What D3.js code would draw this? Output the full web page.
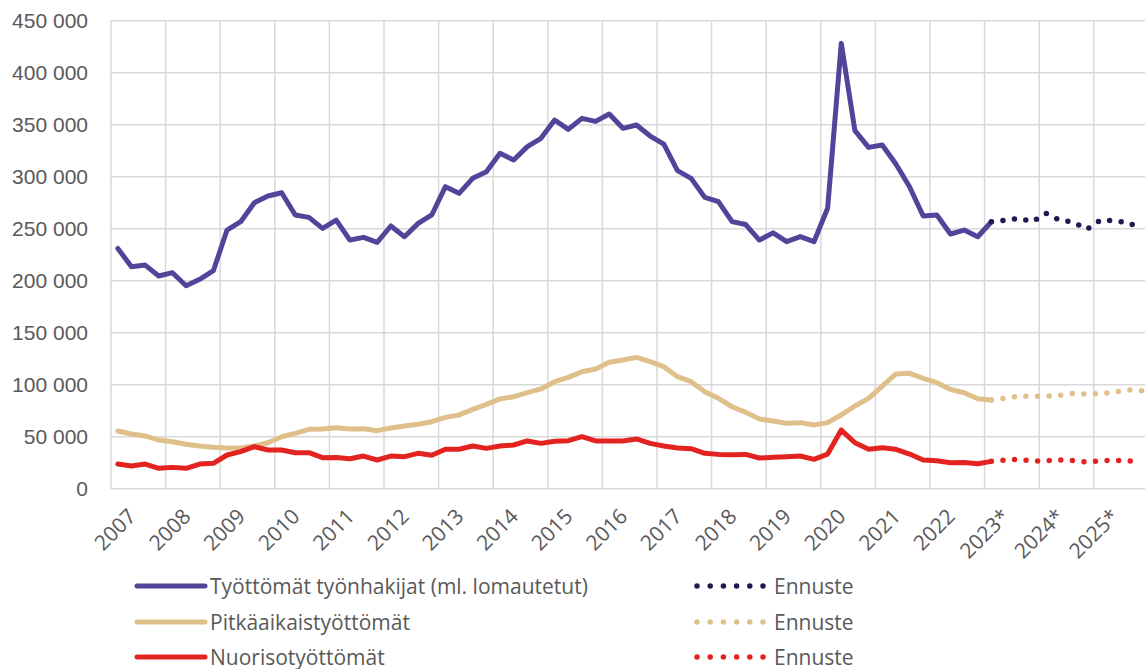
<!DOCTYPE html>
<html lang="fi">
<head>
  <meta charset="UTF-8">
  <title>Työttömät työnhakijat</title>
  <script src="https://d3js.org/d3.v7.min.js"></script>
  <style>
    body { margin: 0; background: #fff; }
    svg { display: block; font-family: "Open Sans", sans-serif; }
    .grid line { stroke: #d9d9d9; stroke-width: 1.5px; }
    .axis text { fill: #595959; font-size: 21px; }
    .legend text { fill: #595959; font-size: 21px; }
    .line { fill: none; stroke-width: 5px; stroke-linejoin: round; stroke-linecap: round; }
    .ennuste { fill: none; stroke-width: 5.5px; stroke-linecap: round; stroke-dasharray: 0 11.6; }
  </style>
</head>
<body>
  <div id="chart"></div>

  <script>
    // vuodet ja akselin otsikot
    const years = [2007, 2008, 2009, 2010, 2011, 2012, 2013, 2014, 2015, 2016,
                   2017, 2018, 2019, 2020, 2021, 2022, 2023, 2024, 2025];
    const yearLabels = ["2007", "2008", "2009", "2010", "2011", "2012", "2013", "2014", "2015", "2016",
                        "2017", "2018", "2019", "2020", "2021", "2022", "2023*", "2024*", "2025*"];
    const yTicks = [0, 50000, 100000, 150000, 200000, 250000, 300000, 350000, 400000, 450000];

    // neljännesvuosittaiset arvot 2007Q1 - 2023Q1
    const tyottomat = [
      231000, 213500, 215000, 204500, 207700, 195200, 201300, 209600, 248700, 256700,
      275000, 281400, 284600, 263200, 260900, 250300, 258300, 239100, 241700, 236900,
      252600, 242300, 255100, 263200, 290400, 284000, 298400, 304800, 322500, 316000,
      328900, 336900, 354500, 345500, 356100, 353200, 360300, 346500, 349700, 339100,
      331400, 305800, 298400, 280100, 276000, 256800, 254000, 239100, 246000, 237500,
      242300, 237500, 269600, 428200, 344300, 328200, 330500, 312200, 290400, 262200,
      263200, 244900, 248700, 242300, 256700
    ];
    const pitkaaikais = [
      55500, 52600, 50700, 46800, 45200, 42700, 41100, 39800, 39100, 39100,
      41100, 44200, 50000, 53200, 57100, 57400, 58700, 57400, 57700, 55800,
      58400, 60300, 61900, 64400, 68600, 70900, 76300, 81100, 86300, 88500,
      92300, 95900, 102900, 107100, 112500, 115100, 121500, 123700, 126300, 122100,
      117300, 107700, 102900, 93300, 86900, 78800, 73400, 67000, 65100, 62900,
      63500, 61200, 63500, 70900, 79500, 86900, 98700, 110300, 110900, 106100,
      101900, 95500, 92300, 86500, 85300
    ];
    const nuoriso = [
      23700, 21800, 23700, 19600, 20500, 19600, 23700, 24400, 32400, 35600,
      40400, 37200, 37200, 34600, 34600, 29800, 30100, 28800, 31400, 27600,
      31400, 30800, 34000, 32100, 37900, 37900, 41100, 38800, 41100, 42000,
      45900, 43600, 45600, 46200, 50000, 45900, 45900, 45900, 47800, 43600,
      41100, 39100, 38500, 34000, 33000, 32700, 33000, 29500, 30200, 30800,
      31400, 28200, 33300, 56400, 44200, 37900, 39400, 37900, 33300, 27600,
      26900, 25000, 25300, 24000, 26300
    ];

    // ennusteet 2023Q1 - 2025Q4
    const tyottomatEnnuste = [256700, 258200, 260000, 256700, 264800, 258200, 256400, 249400, 258200, 257600, 256000, 249400];
    const pitkaaikaisEnnuste = [85300, 86900, 89100, 88800, 88800, 89800, 91700, 91000, 91300, 92700, 94900, 94200];
    const nuorisoEnnuste = [26300, 27600, 28200, 26600, 26900, 27600, 27200, 25700, 26900, 27200, 26900, 25700];

    const seriesNames = ["Työttömät työnhakijat (ml. lomautetut)", "Pitkäaikaistyöttömät", "Nuorisotyöttömät"];
    const colors = ["#51459a", "#dfc08b", "#e3231f"];
    const forecastColors = ["#1e1b52", "#dfc08b", "#e3231f"];

    const width = 1145, height = 669;
    const plotLeft = 111, plotRight = 1148.4, plotTop = 20.7, plotBottom = 488.7;

    const quarters = [];
    years.forEach(yr => [1, 2, 3, 4].forEach(q => quarters.push(yr + "Q" + q)));

    const x = d3.scaleBand().domain(quarters).range([plotLeft, plotRight]).padding(0);
    const y = d3.scaleLinear().domain([0, 450000]).range([plotBottom, plotTop]);
    const xc = i => x(quarters[i]) + x.bandwidth() / 2;

    const fmt = d3.formatLocale({ decimal: ",", thousands: " ", grouping: [3], currency: ["", " €"] }).format(",");

    const svg = d3.select("#chart").append("svg")
      .attr("width", width)
      .attr("height", height);

    // ruudukko
    const grid = svg.append("g").attr("class", "grid");
    grid.selectAll("line.h")
      .data(yTicks)
      .enter().append("line")
      .attr("class", "h")
      .attr("x1", plotLeft).attr("x2", plotRight)
      .attr("y1", d => y(d)).attr("y2", d => y(d));
    grid.selectAll("line.v")
      .data(years)
      .enter().append("line")
      .attr("class", "v")
      .attr("x1", d => x(d + "Q1"))
      .attr("x2", d => x(d + "Q1"))
      .attr("y1", plotTop).attr("y2", plotBottom);
    grid.append("line")
      .attr("x1", plotRight).attr("x2", plotRight)
      .attr("y1", plotTop).attr("y2", plotBottom);

    // y-akseli
    const yAxis = svg.append("g")
      .attr("class", "axis")
      .attr("transform", "translate(" + (plotLeft - 23) + ",0)")
      .call(d3.axisLeft(y).tickValues(yTicks).tickSize(0).tickPadding(0).tickFormat(fmt));
    yAxis.select(".domain").remove();
    yAxis.selectAll("text").attr("font-size", 21).attr("fill", "#595959").attr("font-family", null);

    // x-akselin otsikot
    svg.append("g").attr("class", "axis")
      .selectAll("text")
      .data(years)
      .enter().append("text")
      .attr("transform", d => "translate(" + (x(d + "Q3") - 1) + "," + (plotBottom + 29) + ") rotate(-45)")
      .attr("text-anchor", "end")
      .text((d, i) => yearLabels[i]);

    // viivat
    const line = d3.line().x(d => xc(d.i)).y(d => y(d.v));
    const actual = [tyottomat, pitkaaikais, nuoriso];
    const forecast = [tyottomatEnnuste, pitkaaikaisEnnuste, nuorisoEnnuste];

    actual.forEach((arr, k) => {
      svg.append("path")
        .attr("class", "line")
        .attr("stroke", colors[k])
        .attr("d", line(arr.map((v, i) => ({ i: i, v: v }))));
    });
    forecast.forEach((arr, k) => {
      const start = actual[k].length - 1;
      svg.append("path")
        .attr("class", "ennuste")
        .attr("stroke", forecastColors[k])
        .attr("d", line(arr.map((v, i) => ({ i: start + i, v: v }))));
    });

    // selite
    const legend = svg.append("g").attr("class", "legend");
    const rowY = [586, 622, 657];
    seriesNames.forEach((name, k) => {
      legend.append("line")
        .attr("x1", 137).attr("x2", 205)
        .attr("y1", rowY[k]).attr("y2", rowY[k])
        .attr("stroke", colors[k]).attr("stroke-width", 5).attr("stroke-linecap", "round");
      legend.append("text")
        .attr("x", 210).attr("y", rowY[k] + 7.5)
        .text(name);

      legend.append("line")
        .attr("x1", 697).attr("x2", 763)
        .attr("y1", rowY[k]).attr("y2", rowY[k])
        .attr("stroke", forecastColors[k]).attr("stroke-width", 5.5)
        .attr("stroke-linecap", "round").attr("stroke-dasharray", "0 13.2");
      legend.append("text")
        .attr("x", 774).attr("y", rowY[k] + 7.5)
        .text("Ennuste");
    });
  </script>
</body>
</html>
